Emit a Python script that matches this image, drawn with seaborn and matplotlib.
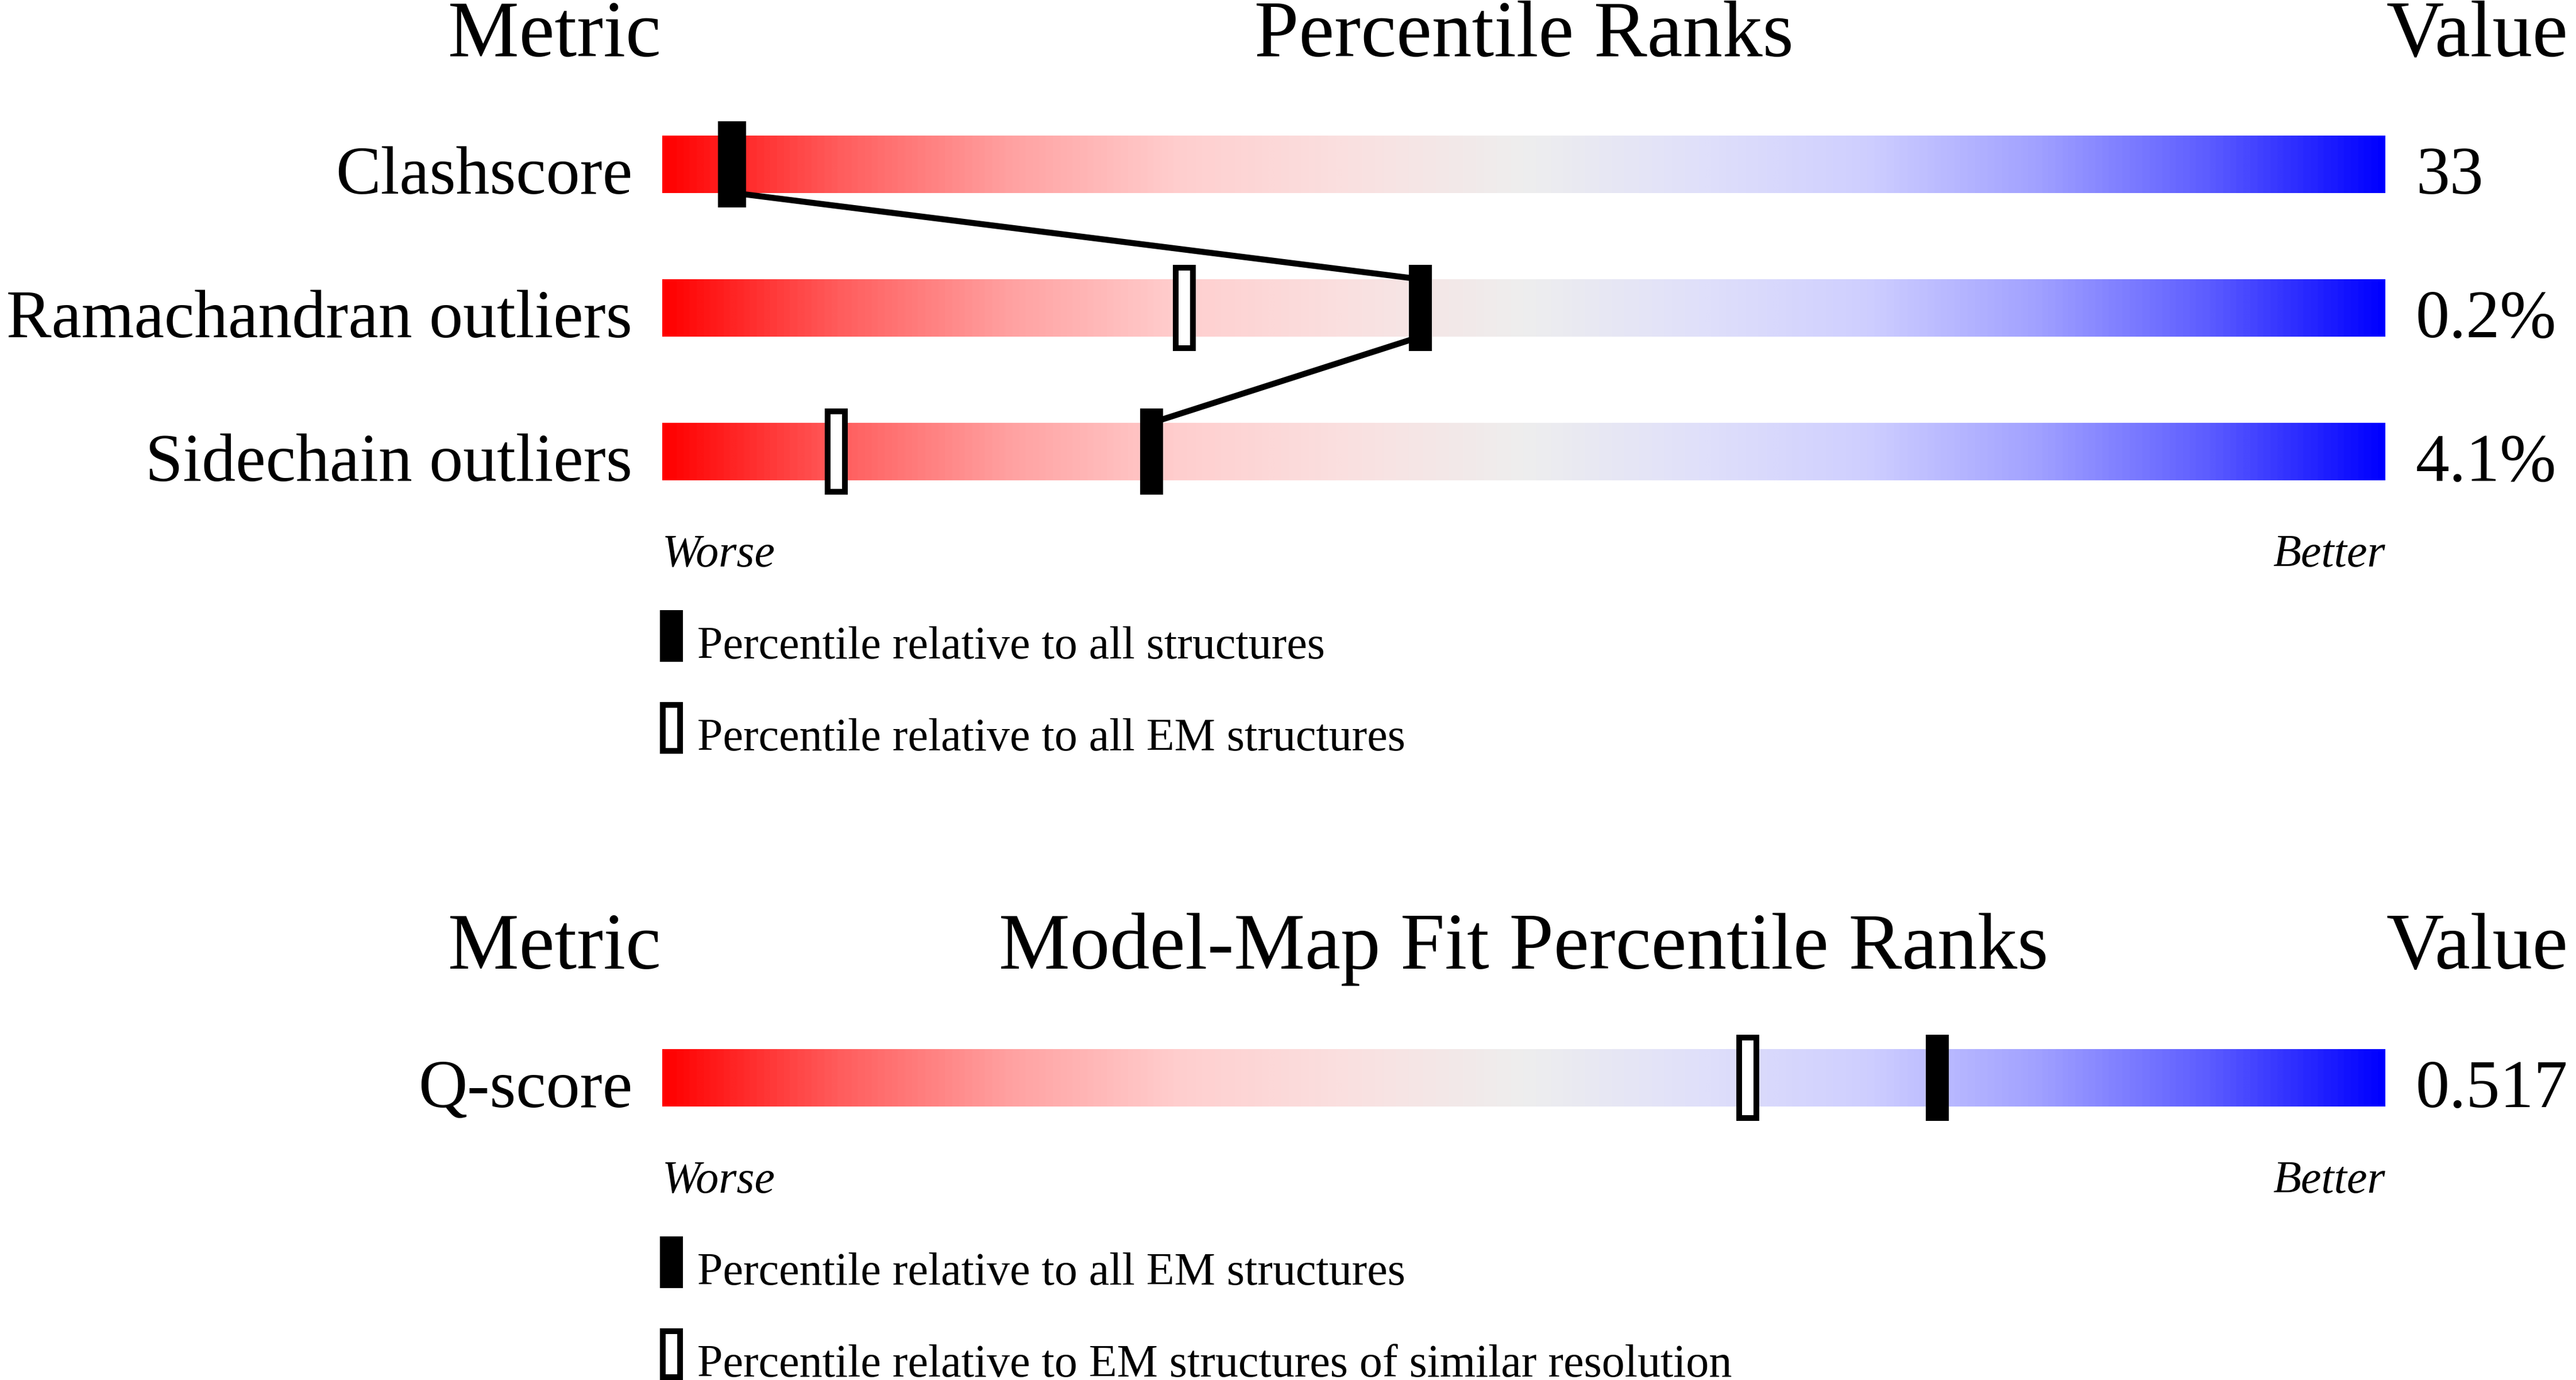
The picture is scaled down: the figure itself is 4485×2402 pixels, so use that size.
import numpy as np
import matplotlib
matplotlib.use("Agg")
import matplotlib.pyplot as plt
from matplotlib.colors import LinearSegmentedColormap
import seaborn as sns

# ---------------- data ----------------
metrics_top = ["Clashscore", "Ramachandran outliers", "Sidechain outliers"]
values_top = ["33", "0.2%", "4.1%"]
pct_all_top = [4.2, 44, 28.4]        # percentile relative to all structures
pct_em_top = [3.9, 30.3, 10.1]       # percentile relative to all EM structures

metrics_bot = ["Q-score"]
values_bot = ["0.517"]
pct_all_bot = [74]                   # relative to all EM structures
pct_res_bot = [63]                   # relative to EM structures of similar resolution

titles_top = ["Metric", "Percentile Ranks", "Value"]
titles_bot = ["Metric", "Model-Map Fit Percentile Ranks", "Value"]
legend_top = ["Percentile relative to all structures",
              "Percentile relative to all EM structures"]
legend_bot = ["Percentile relative to all EM structures",
              "Percentile relative to EM structures of similar resolution"]
scale_labels = ["Worse", "Better"]

# ---------------- style ----------------
sns.set_theme(style="white")
plt.rcParams["font.family"] = ["Liberation Serif", "DejaVu Serif"]
plt.rcParams["text.color"] = "black"

W, H, DPI = 4485, 2402, 300
fig = plt.figure(figsize=(W / DPI, H / DPI), dpi=DPI)
ax = fig.add_axes([0, 0, 1, 1])
ax.set_axis_off()

X0, XW = 1153, 3000          # pixel position / width of the 0-100 scale
PPU = XW / 100.0             # pixels per percentile unit
def px(xp):                  # pixel x -> data x
    return (xp - X0) / PPU

BAR_H = 100
MK_W, MK_H = 40, 150
OUT_LW_PX = 10
pt = 72.0 / DPI              # points per pixel

cmap = LinearSegmentedColormap.from_list(
    "wwpdb",
    [(0.00, (1.00, 0.00, 0.00)),
     (0.10, (1.00, 0.36, 0.36)),
     (0.20, (1.00, 0.63, 0.63)),
     (0.30, (1.00, 0.81, 0.81)),
     (0.40, (0.98, 0.88, 0.88)),
     (0.50, (0.933, 0.933, 0.933)),
     (0.60, (0.88, 0.88, 0.98)),
     (0.70, (0.81, 0.81, 1.00)),
     (0.80, (0.63, 0.63, 1.00)),
     (0.90, (0.36, 0.36, 1.00)),
     (1.00, (0.00, 0.00, 1.00))])
grad = np.linspace(0, 1, 1200).reshape(1, -1)

FS_TITLE, FS_LABEL, FS_SMALL = 33.4, 28.3, 19.2
TXT = dict(color="black")


def panel(title_base, row_tops, metrics, values, pct_a, pct_b, legend, connect):
    t = titles_top if connect else titles_bot
    ax.text(px(1151), title_base, t[0], ha="right", va="baseline", fontsize=FS_TITLE, **TXT)
    ax.text(50, title_base, t[1], ha="center", va="baseline", fontsize=FS_TITLE, **TXT)
    ax.text(px(4155), title_base, t[2], ha="left", va="baseline", fontsize=FS_TITLE, **TXT)
    for top, name, val in zip(row_tops, metrics, values):
        ax.imshow(grad, cmap=cmap, aspect="auto", extent=(0, 100, top + BAR_H, top),
                  interpolation="bilinear", zorder=1)
        ax.text(px(1101), top + BAR_H + 1, name, ha="right", va="baseline",
                fontsize=FS_LABEL, **TXT)
        ax.text(px(4206), top + BAR_H + 1, val, ha="left", va="baseline",
                fontsize=FS_LABEL, **TXT)
    tops = np.array(row_tops, dtype=float)
    # open markers (secondary percentile)
    ax.bar(pct_b, MK_H - OUT_LW_PX, bottom=tops - (MK_H - BAR_H) / 2 + OUT_LW_PX / 2,
           width=(MK_W - OUT_LW_PX) / PPU, facecolor="white", edgecolor="black",
           linewidth=OUT_LW_PX * pt, zorder=3)
    # filled markers
    ax.bar(pct_a, MK_H, bottom=tops - (MK_H - BAR_H) / 2, width=MK_W / PPU,
           color="black", linewidth=0, zorder=4)
    if connect and len(pct_a) > 1:
        xs, ys = [], []
        for i in range(len(pct_a)):
            xs += [pct_a[i], pct_a[i]]
            ys += [tops[i], tops[i] + BAR_H]
        xs, ys = xs[1:-1], ys[1:-1]
        sns.lineplot(x=xs, y=ys, sort=False, estimator=None, color="black",
                     linewidth=2.5, ax=ax, zorder=2, legend=False)
    base = tops[-1] + BAR_H + 150
    ax.text(0, base, scale_labels[0], ha="left", va="baseline", fontsize=FS_SMALL,
            style="italic", **TXT)
    ax.text(100, base, scale_labels[1], ha="right", va="baseline", fontsize=FS_SMALL,
            style="italic", **TXT)
    # legend
    lx = px(1169)
    ltop = base + 76
    ax.bar([lx], [90], bottom=[ltop], width=MK_W / PPU, color="black", linewidth=0, zorder=4)
    ax.bar([lx], [90 - OUT_LW_PX], bottom=[ltop + 160 + OUT_LW_PX / 2],
           width=(MK_W - OUT_LW_PX) / PPU, facecolor="white", edgecolor="black",
           linewidth=OUT_LW_PX * pt, zorder=4)
    ax.text(px(1214), ltop + 84, legend[0], ha="left", va="baseline", fontsize=FS_SMALL, **TXT)
    ax.text(px(1214), ltop + 160 + 84, legend[1], ha="left", va="baseline",
            fontsize=FS_SMALL, **TXT)


panel(98, [236, 486, 736], metrics_top, values_top, pct_all_top, pct_em_top, legend_top, True)
panel(1686, [1826], metrics_bot, values_bot, pct_all_bot, pct_res_bot, legend_bot, False)

ax.set_xlim(px(0), px(W))
ax.set_ylim(H, 0)
fig.savefig("out.png", dpi=DPI, facecolor="white")
